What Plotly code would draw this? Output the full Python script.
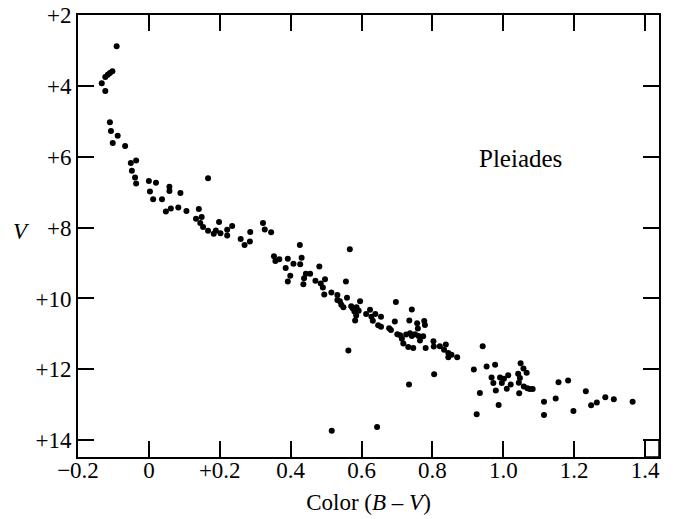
import plotly.graph_objects as go

# Color index (B - V) values
bv = [
    -0.091, -0.103, -0.110, -0.116, -0.123, -0.133, -0.123, -0.110, -0.107, -0.088, -0.102, -0.067,
    -0.051, -0.036, -0.048, -0.039, -0.036, 0.000, 0.020, 0.167, 0.003, 0.058, 0.058, 0.089,
    0.012, 0.037, 0.048, 0.062, 0.083, 0.106, 0.141, 0.133, 0.149, 0.145, 0.153, 0.167,
    0.198, 0.189, 0.183, 0.202, 0.221, 0.235, 0.221, 0.259, 0.270, 0.285, 0.286, 0.322,
    0.327, 0.345, 0.426, 0.353, 0.357, 0.368, 0.392, 0.386, 0.408, 0.431, 0.427, 0.481,
    0.399, 0.392, 0.567, 0.443, 0.455, 0.438, 0.436, 0.470, 0.485, 0.497, 0.491, 0.495,
    0.515, 0.532, 0.556, 0.532, 0.539, 0.543, 0.549, 0.559, 0.596, 0.571, 0.575, 0.580,
    0.586, 0.592, 0.582, 0.585, 0.613, 0.624, 0.628, 0.639, 0.655, 0.632, 0.647, 0.655,
    0.697, 0.694, 0.678, 0.683, 0.742, 0.735, 0.701, 0.709, 0.714, 0.718, 0.732, 0.726,
    0.737, 0.742, 0.751, 0.757, 0.759, 0.761, 0.765, 0.777, 0.779, 0.774, 0.781, 0.803,
    0.804, 0.563, 0.746, 0.805,
    0.821, 0.838, 0.833, 0.845, 0.854, 0.845, 0.870, 0.942, 0.917, 0.953, 0.977, 1.049,
    1.057, 1.066, 1.042, 0.967, 0.991, 1.002, 1.014, 1.047, 0.972, 0.996, 1.044, 1.021,
    1.058, 1.068, 1.075, 1.083, 0.979, 1.010, 1.045, 0.934, 0.987, 0.925, 1.115, 1.115,
    1.148, 1.156, 1.183, 1.198, 1.233, 1.248, 1.264, 1.288, 1.312, 1.365,
    0.516, 0.644, 0.734,
]

# Apparent visual magnitude V
vmag = [
    2.87, 3.58, 3.63, 3.68, 3.74, 3.92, 4.14, 5.02, 5.27, 5.40, 5.61, 5.69,
    6.17, 6.10, 6.39, 6.58, 6.75, 6.68, 6.73, 6.60, 6.98, 6.84, 6.96, 7.02,
    7.20, 7.20, 7.54, 7.46, 7.43, 7.53, 7.47, 7.75, 7.70, 7.87, 7.98, 8.09,
    7.84, 8.08, 8.17, 8.16, 8.06, 7.95, 8.22, 8.32, 8.49, 8.39, 8.12, 7.87,
    8.05, 8.13, 8.49, 8.81, 8.94, 8.89, 8.88, 9.14, 9.02, 8.85, 9.03, 9.10,
    9.36, 9.52, 8.61, 9.30, 9.30, 9.43, 9.60, 9.50, 9.58, 9.46, 9.69, 9.89,
    9.83, 9.90, 9.52, 10.04, 10.08, 10.18, 10.25, 9.98, 10.08, 10.22, 10.28, 10.37,
    10.25, 10.35, 10.62, 10.48, 10.44, 10.32, 10.52, 10.44, 10.52, 10.63, 10.76, 10.80,
    10.10, 10.65, 10.84, 10.89, 10.31, 10.62, 11.01, 11.04, 11.14, 11.27, 11.37, 11.02,
    10.98, 11.06, 11.01, 10.70, 10.85, 11.06, 11.19, 10.64, 10.75, 11.07, 11.40, 11.21,
    11.36, 11.47, 11.40, 12.14,
    11.35, 11.30, 11.45, 11.54, 11.59, 11.66, 11.66, 11.35, 12.01, 11.92, 11.87, 11.83,
    11.98, 12.10, 12.13, 12.23, 12.23, 12.27, 12.17, 12.25, 12.39, 12.39, 12.38, 12.43,
    12.49, 12.54, 12.56, 12.56, 12.60, 12.55, 12.68, 12.67, 13.01, 13.27, 12.92, 13.29,
    12.83, 12.37, 12.32, 13.18, 12.62, 13.02, 12.94, 12.79, 12.85, 12.92,
    13.74, 13.63, 12.43,
]

x_tickvals = [-0.2, 0, 0.2, 0.4, 0.6, 0.8, 1.0, 1.2, 1.4]
x_ticktext = ["\u22120.2", "0", "+0.2", "0.4", "0.6", "0.8", "1.0", "1.2", "1.4"]
y_tickvals = [2, 4, 6, 8, 10, 12, 14]
y_ticktext = ["+2", "+4", "+6", "+8", "+10", "+12", "+14"]

FONT = "Liberation Serif"
FS = 23

fig = go.Figure()
fig.add_trace(go.Scatter(
    x=bv, y=vmag, mode="markers",
    marker=dict(color="black", size=6, line=dict(width=0)),
    showlegend=False, hoverinfo="skip",
))

fig.update_layout(
    width=677, height=519,
    margin=dict(l=78, r=18, t=15, b=62),
    paper_bgcolor="white", plot_bgcolor="white",
    font=dict(family=FONT, size=FS, color="black"),
    xaxis=dict(
        range=[-0.2, 1.4395], tickvals=x_tickvals, ticktext=x_ticktext,
        showgrid=False, zeroline=False, showline=True, linecolor="black", linewidth=2,
        mirror="ticks", ticks="inside", ticklen=16, tickwidth=1.5, tickcolor="black",
        tickfont=dict(family=FONT, size=FS), automargin=False, ticklabelstandoff=-9,
        title=dict(text="Color (<i>B</i> \u2013 <i>V</i>)", font=dict(family=FONT, size=FS), standoff=12),
    ),
    yaxis=dict(
        range=[14.48, 1.99], tickvals=y_tickvals, ticktext=y_ticktext,
        showgrid=False, zeroline=False, showline=True, linecolor="black", linewidth=2,
        mirror="ticks", ticks="inside", ticklen=16, tickwidth=1.5, tickcolor="black",
        tickfont=dict(family=FONT, size=FS), automargin=False,
    ),
    annotations=[
        dict(text="<i>V</i>", xref="paper", yref="paper", x=-0.097, y=0.51,
             xanchor="center", yanchor="middle", showarrow=False,
             font=dict(family=FONT, size=FS)),
        dict(text="Pleiades", xref="x", yref="y", x=1.05, y=6.04,
             xanchor="center", yanchor="middle", showarrow=False,
             font=dict(family=FONT, size=FS + 2)),
    ],
    shapes=[
        dict(type="rect", xref="x", yref="y", x0=1.4, x1=1.4395, y0=14.0, y1=14.48,
             line=dict(color="black", width=1.5), fillcolor="rgba(0,0,0,0)"),
    ],
)

fig.write_html("out.html", config={"displayModeBar": False},
               post_script="document.body.style.margin='0';")
